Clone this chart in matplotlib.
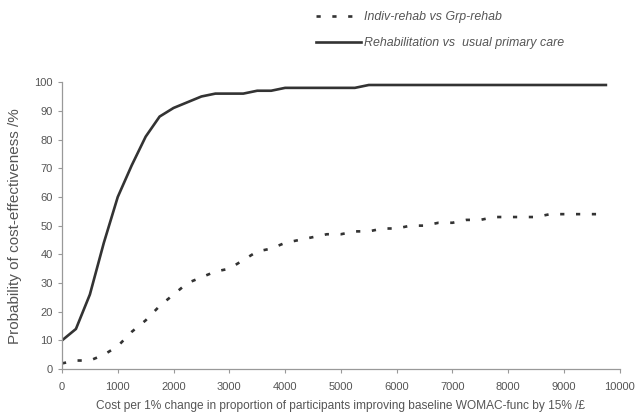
import matplotlib
matplotlib.use("Agg")
import matplotlib.pyplot as plt

plt.rcParams['font.family'] = ['Liberation Sans', 'DejaVu Sans']

cost = [0, 250, 500, 750, 1000, 1250, 1500, 1750, 2000, 2250, 2500, 2750, 3000, 3250,
        3500, 3750, 4000, 4250, 4500, 4750, 5000, 5250, 5500, 5750, 6000, 6250, 6500,
        6750, 7000, 7250, 7500, 7750, 8000, 8250, 8500, 8750, 9000, 9250, 9500, 9750]
indiv_vs_grp = [2, 3, 3, 5, 8, 13, 17, 22, 26, 30, 32, 34, 35, 38, 41, 42, 44, 45, 46, 47,
                47, 48, 48, 49, 49, 50, 50, 51, 51, 52, 52, 53, 53, 53, 53, 54, 54, 54, 54, 54]
rehab_vs_usual = [10, 14, 26, 44, 60, 71, 81, 88, 91, 93, 95, 96, 96, 96, 97, 97, 98, 98, 98, 98,
                  98, 98, 99, 99, 99, 99, 99, 99, 99, 99, 99, 99, 99, 99, 99, 99, 99, 99, 99, 99]
xticks = list(range(0, 10001, 1000))
yticks = list(range(0, 101, 10))

fig = plt.figure(figsize=(6.39, 4.19), dpi=100)
ax = fig.add_axes([0.097, 0.119, 0.873, 0.685])

l1, = ax.plot(cost, indiv_vs_grp, color='#333333', lw=1.9, linestyle=(0, (1.6, 4.4)),
              label='Indiv-rehab vs Grp-rehab')
l2, = ax.plot(cost, rehab_vs_usual, color='#333333', lw=1.9, solid_joinstyle='round',
              label='Rehabilitation vs  usual primary care')

ax.set_xlim(0, 10000)
ax.set_ylim(0, 100)
ax.set_xticks(xticks)
ax.set_yticks(yticks)
ax.set_xticklabels([str(t) for t in xticks])
ax.set_yticklabels([str(t) for t in yticks])
for s in ['top', 'right']:
    ax.spines[s].set_visible(False)
for s in ['left', 'bottom']:
    ax.spines[s].set_color('#999999')
    ax.spines[s].set_linewidth(0.9)
ax.tick_params(axis='both', colors='#999999', labelcolor='#555555', labelsize=8, length=3, width=0.8)
ax.tick_params(axis='x', pad=6)

ax.set_ylabel('Probability of cost-effectiveness /%', fontsize=11, color='#555555', labelpad=9)
ax.set_xlabel('Cost per 1% change in proportion of participants improving baseline WOMAC-func by 15% /\u00a3',
              fontsize=8.6, color='#555555', labelpad=6)

leg = fig.legend(handles=[l1, l2], loc='upper left', bbox_to_anchor=(0.487, 0.985),
                 frameon=False, fontsize=8.9, handlelength=3.6, labelspacing=1.15,
                 handletextpad=0.25, borderaxespad=0)
for t in leg.get_texts():
    t.set_style('italic')
    t.set_color('#555555')

fig.savefig('out.png', dpi=100)
